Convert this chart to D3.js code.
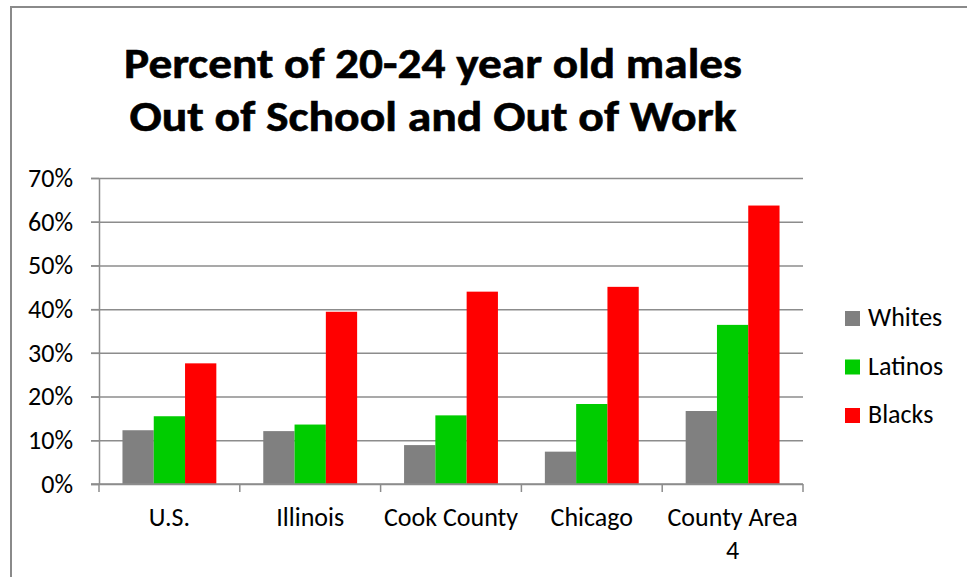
<!DOCTYPE html>
<html>
<head>
<meta charset="utf-8">
<script src="https://cdn.jsdelivr.net/npm/d3@7"></script>
<style>
  body { margin: 0; background: #fff; }
  text { font-family: Carlito, Calibri, Lato, sans-serif; fill: #000; }
</style>
</head>
<body>
<div id="bar_chart"></div>
<script>
// data
const categories = ["U.S.", "Illinois", "Cook County", "Chicago", "County Area 4"];
const seriesNames = ["Whites", "Latinos", "Blacks"];
const whites  = [0.123, 0.121, 0.089, 0.074, 0.167];
const latinos = [0.155, 0.136, 0.157, 0.183, 0.364];
const blacks  = [0.276, 0.394, 0.440, 0.451, 0.637];
const yTicks = [0, 0.1, 0.2, 0.3, 0.4, 0.5, 0.6, 0.7];
const titleLines = ["Percent of 20-24 year old males", "Out of School and Out of Work"];

const seriesValues = [whites, latinos, blacks];
const colors = ["#808080", "#00cc00", "#ff0000"];

const W = 967, H = 577;
const margin = {top: 178, right: 164, bottom: 93, left: 99},
width = W - margin.left - margin.right,
height = H - margin.top - margin.bottom;

const svg = d3.select("#bar_chart")
    .append("svg")
        .attr("width", W)
        .attr("height", H);

// outer chart border
svg.append("rect")
    .attr("x", 11).attr("y", 7)
    .attr("width", W + 20).attr("height", H + 20)
    .attr("fill", "none")
    .attr("stroke", "#8a8a8a")
    .attr("stroke-width", 2);

// title
const titleWidths = [618, 607];
svg.append("g").selectAll("text")
    .data(titleLines)
    .join("text")
        .attr("x", 433)
        .attr("y", (d, i) => 78 + i * 53)
        .attr("text-anchor", "middle")
        .attr("font-size", 43)
        .attr("font-weight", "bold")
        .attr("stroke", "#000")
        .attr("stroke-width", 0.6)
        .attr("textLength", (d, i) => titleWidths[i])
        .attr("lengthAdjust", "spacingAndGlyphs")
        .text(d => d);

const g = svg.append("g")
    .attr("transform", `translate(${margin.left},${margin.top})`);

const x = d3.scaleBand()
    .domain(categories)
    .range([0, width])
    .paddingInner(1/3)
    .paddingOuter(1/6);

const xSub = d3.scaleBand()
    .domain(seriesNames)
    .range([0, x.bandwidth()]);

const y = d3.scaleLinear()
    .domain([0, 0.7])
    .range([height, 0]);

// gridlines
g.append("g")
    .attr("class", "grid")
    .call(d3.axisLeft(y).tickValues(yTicks).tickSize(-width).tickFormat(""))
    .call(s => s.select(".domain").remove())
    .call(s => s.selectAll("line")
        .attr("x1", -8)
        .attr("stroke", "#8c8c8c")
        .attr("stroke-width", 1.5));

// y axis
g.append("g")
    .call(d3.axisLeft(y).tickValues(yTicks).tickSize(8).tickSizeOuter(0)
        .tickPadding(18).tickFormat(d3.format(".0%")))
    .call(s => s.select(".domain").attr("stroke", "#8c8c8c").attr("stroke-width", 1.5))
    .call(s => s.selectAll(".tick line").attr("stroke", "#8c8c8c").attr("stroke-width", 1.5))
    .call(s => s.selectAll("text")
        .attr("font-family", "Carlito, Calibri, Lato, sans-serif")
        .attr("font-size", 26)
        .attr("fill", "#000"));

// bars
const groups = g.append("g")
    .selectAll("g")
    .data(categories)
    .join("g")
        .attr("transform", d => `translate(${x(d)},0)`);

groups.selectAll("rect")
    .data((c, ci) => seriesNames.map((s, si) => ({series: s, si: si, value: seriesValues[si][ci]})))
    .join("rect")
        .attr("x", d => xSub(d.series))
        .attr("width", xSub.bandwidth())
        .attr("y", d => y(d.value))
        .attr("height", d => height - y(d.value))
        .attr("fill", d => colors[d.si]);

// x axis line and boundary ticks
const bounds = d3.range(categories.length + 1).map(i => i * x.step());
const xAxis = g.append("g").attr("transform", `translate(0,${height})`);
xAxis.append("line")
    .attr("x1", -8).attr("x2", width)
    .attr("stroke", "#8c8c8c").attr("stroke-width", 1.5);
xAxis.selectAll(".bound")
    .data(bounds)
    .join("line")
        .attr("class", "bound")
        .attr("x1", d => d).attr("x2", d => d)
        .attr("y1", 0).attr("y2", 8)
        .attr("stroke", "#8c8c8c").attr("stroke-width", 1.5);

// category labels, wrapped to the band step
const labels = xAxis.selectAll(".cat")
    .data(categories)
    .join("text")
        .attr("class", "cat")
        .attr("x", d => x(d) + x.bandwidth() / 2)
        .attr("y", 42)
        .attr("text-anchor", "middle")
        .attr("font-size", 26)
        .text(d => d);

labels.each(function(d) {
    const text = d3.select(this);
    const words = d.split(" ");
    const cx = text.attr("x");
    text.text(null);
    let line = [];
    let tspan = text.append("tspan").attr("x", cx).attr("dy", 0);
    words.forEach(w => {
        line.push(w);
        tspan.text(line.join(" "));
        if (tspan.node().getComputedTextLength() > x.step() - 4 && line.length > 1) {
            line.pop();
            tspan.text(line.join(" "));
            line = [w];
            tspan = text.append("tspan").attr("x", cx).attr("dy", 33).text(w);
        }
    });
});

// legend
const legend = svg.append("g")
    .attr("transform", "translate(845,311)");
const items = legend.selectAll("g")
    .data(seriesNames)
    .join("g")
        .attr("transform", (d, i) => `translate(0,${i * 48.5})`);
items.append("rect")
    .attr("width", 15).attr("height", 15)
    .attr("fill", (d, i) => colors[i]);
items.append("text")
    .attr("x", 23)
    .attr("y", 15)
    .attr("font-size", 26)
    .text(d => d);
</script>
</body>
</html>
